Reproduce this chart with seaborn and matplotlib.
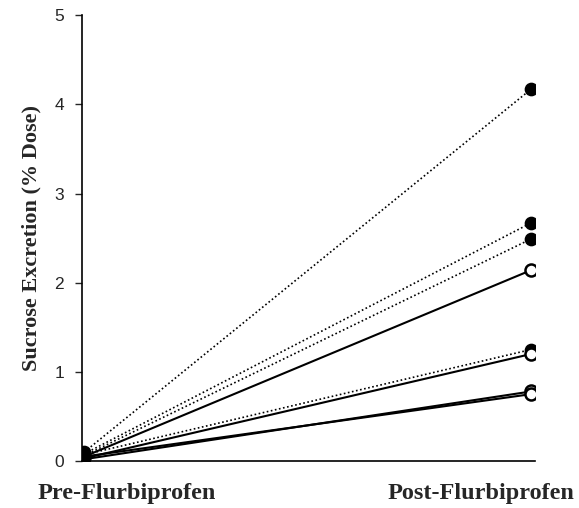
import pandas as pd
import numpy as np
import matplotlib
matplotlib.use("Agg")
import matplotlib.pyplot as plt
import seaborn as sns

# per-subject values
subjects = ['s1', 's2', 's3', 's4', 's5', 's6', 's7', 's8']
pre_values = [0.10, 0.08, 0.06, 0.05, 0.07, 0.03, 0.02, 0.05]
post_values = [4.17, 2.67, 2.49, 2.14, 1.25, 1.20, 0.78, 0.75]
filled = [True, True, True, False, True, False, False, False]
tick_labels = ['Pre-Flurbiprofen', 'Post-Flurbiprofen']


def build_frame():
    rows = []
    for s, a, b, f in zip(subjects, pre_values, post_values, filled):
        rows.append({'subject': s, 'x': 0, 'y': a, 'filled': f})
        rows.append({'subject': s, 'x': 1, 'y': b, 'filled': f})
    return pd.DataFrame(rows)


def main():
    df = build_frame()
    sns.set_style('ticks')

    fig = plt.figure(figsize=(5.79, 5.08), dpi=100)
    ax = fig.add_axes([0.142, 0.0925, 0.782, 0.8775])

    for s in subjects:
        sub = df[df['subject'] == s]
        is_filled = bool(sub['filled'].iloc[0])
        sns.lineplot(data=sub, x='x', y='y', ax=ax, color='black',
                     linewidth=1.2 if is_filled else 1.5,
                     linestyle=(0, (1, 1.5)) if is_filled else '-',
                     legend=False)
    # pre-dose points overlap into one dark blob
    pre = df[df['x'] == 0]
    post = df[df['x'] == 1]
    sns.scatterplot(data=pre, x='x', y='y', ax=ax, s=75, color='black',
                    edgecolor='black', linewidth=1.2, zorder=5, legend=False)
    # post: solid dots for dotted lines, open circles for solid lines
    sns.scatterplot(data=post[post['filled']], x='x', y='y', ax=ax, s=75,
                    color='black', edgecolor='black', linewidth=1.2, zorder=5, legend=False)
    sns.scatterplot(data=post[~post['filled']], x='x', y='y', ax=ax, s=75,
                    facecolor='white', edgecolor='black', linewidth=1.8, zorder=6, legend=False)

    ax.set_xlim(-0.0045, 1.009)
    ax.set_ylim(0, 5)
    ax.set_yticks([0, 1, 2, 3, 4, 5])
    ax.set_yticklabels(['0', '1', '2', '3', '4', '5'], family='Liberation Sans', fontsize=12.5)
    ax.tick_params(axis='y', direction='out', length=5, width=1, pad=8)
    ax.set_xticks([0.096, 0.888])
    ax.set_xticklabels(tick_labels, family='Liberation Serif', fontweight='bold', fontsize=17.5)
    ax.tick_params(axis='x', length=0, pad=16)
    ax.set_xlabel('')
    ax.set_ylabel('Sucrose Excretion (% Dose)', family='Liberation Serif',
                  fontweight='bold', fontsize=16, labelpad=9)
    sns.despine(ax=ax)
    for sp in ['left', 'bottom']:
        ax.spines[sp].set_linewidth(1.2)
        ax.spines[sp].set_color('black')

    fig.savefig('out.png', dpi=100)


if __name__ == "__main__":
    main()
